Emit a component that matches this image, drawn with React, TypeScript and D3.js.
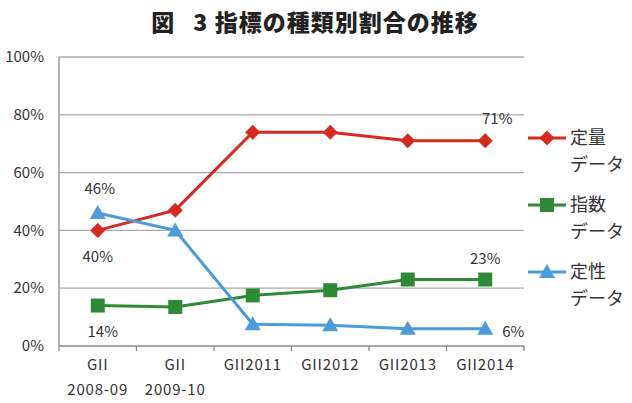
import React from 'react';
import * as d3 from 'd3';

const categories = ['GII\n2008-09', 'GII\n2009-10', 'GII2011', 'GII2012', 'GII2013', 'GII2014'];
const quantitative = [40, 47, 74, 74, 71, 71];
const indexData = [14, 13.5, 17.5, 19.3, 23, 23];
const qualitative = [46, 40, 7.5, 7.2, 6, 6];
const yTicks = [0, 20, 40, 60, 80, 100];

const seriesNames = [['定量', 'データ'], ['指数', 'データ'], ['定性', 'データ']];
const colors = ['#d42a20', '#2f8a35', '#4a9bd8'];

// value labels: [series, point index, dx, dy]
const valueLabels: [number, number, number, number][] = [
  [2, 0, 2, -24],
  [0, 0, 0, 26],
  [1, 0, 5, 26],
  [0, 5, 12, -22],
  [1, 5, 0, -21],
  [2, 5, 28, 3],
];

const font = '"Noto Sans CJK JP", "Noto Sans", sans-serif';

const W = 632, H = 403;
const margin = { left: 59, right: 108, top: 57, bottom: 57 };

export default function App() {
  const x = d3.scaleBand<number>()
    .domain(d3.range(categories.length))
    .range([margin.left, W - margin.right]);
  const y = d3.scaleLinear().domain([0, 100]).range([H - margin.bottom, margin.top]);
  const cx = (i: number) => (x(i) as number) + x.bandwidth() / 2;

  const all = [quantitative, indexData, qualitative];
  const line = d3.line<number>().x((_, i) => cx(i)).y(d => y(d));

  const marker = (s: number, px: number, py: number, key: string) => {
    if (s === 0) {
      const r = 7.5;
      return <path key={key} d={`M${px},${py - r}L${px + r},${py}L${px},${py + r}L${px - r},${py}Z`} fill={colors[0]} />;
    }
    if (s === 1) {
      return <rect key={key} x={px - 7} y={py - 7} width={14} height={14} fill={colors[1]} />;
    }
    return <path key={key} d={`M${px},${py - 8}L${px + 8},${py + 6}L${px - 8},${py + 6}Z`} fill={colors[2]} />;
  };

  const boundaries = d3.range(categories.length + 1).map(i => margin.left + i * x.step());

  return (
    <svg width={W} height={H} style={{ position: 'absolute', left: 0, top: 0 }} fontFamily={font}>
      <rect width={W} height={H} fill="#fff" />
      <text x={315} y={31} textAnchor="middle" fontSize={23} fontWeight={900} fill="#222" letterSpacing={1}>
        <tspan>図</tspan>
        <tspan dx={18}>3 指標の種類別割合の推移</tspan>
      </text>

      {yTicks.map(t => (
        <g key={t}>
          <line x1={margin.left} x2={W - margin.right} y1={y(t)} y2={y(t)} stroke={t === 0 ? '#888' : '#aaa'} strokeWidth={1.3} />
          <text x={margin.left - 15} y={y(t)} dy="0.35em" textAnchor="end" fontSize={15} fill="#333">{t}%</text>
        </g>
      ))}
      <line x1={margin.left} x2={margin.left} y1={y(100)} y2={y(0)} stroke="#888" strokeWidth={1.3} />
      {boundaries.map((b, i) => (
        <line key={i} x1={b} x2={b} y1={y(0)} y2={y(0) + 5} stroke="#888" strokeWidth={1.3} />
      ))}
      {categories.map((c, i) => (
        <text key={c} x={cx(i)} y={y(0) + 19} dy="0.35em" textAnchor="middle" fontSize={15} fill="#333" letterSpacing={0.8}>
          {c.split('\n').map((part, j) => (
            <tspan key={j} x={cx(i)} dy={j === 0 ? '0.35em' : 25}>{part}</tspan>
          ))}
        </text>
      ))}

      {all.map((vals, s) => (
        <g key={s}>
          <path d={line(vals) as string} fill="none" stroke={colors[s]} strokeWidth={3} />
          {vals.map((v, i) => marker(s, cx(i), y(v), `${s}-${i}`))}
        </g>
      ))}

      {valueLabels.map(([s, i, dx, dy]) => (
        <text key={`${s}-${i}`} x={cx(i) + dx} y={y(all[s][i]) + dy} dy="0.35em" textAnchor="middle" fontSize={15} fill="#333">
          {Math.round(all[s][i])}%
        </text>
      ))}

      {seriesNames.map((names, s) => {
        const ly = 138 + s * 67;
        return (
          <g key={s}>
            <line x1={528} x2={566} y1={ly} y2={ly} stroke={colors[s]} strokeWidth={3} />
            {marker(s, 547, ly, `leg-${s}`)}
            <text x={570} y={ly} dy="0.35em" fontSize={18} fill="#333">{names[0]}</text>
            <text x={570} y={ly + 27} dy="0.35em" fontSize={18} fill="#333">{names[1]}</text>
          </g>
        );
      })}
    </svg>
  );
}
